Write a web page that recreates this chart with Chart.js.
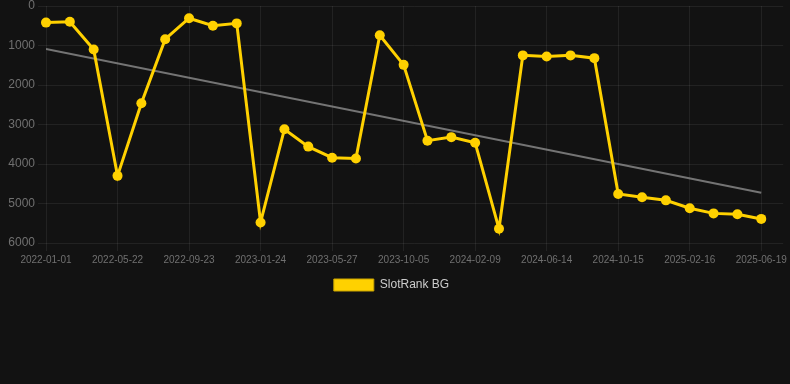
<!DOCTYPE html>
<html>
<head>
<meta charset="utf-8">
<script src="https://cdn.jsdelivr.net/npm/chart.js@4"></script>
<style>
  html, body { margin: 0; padding: 0; background: #121212; }
  .chart-container { position: relative; width: 790px; height: 301px; }
</style>
</head>
<body>
<div class="chart-container">
  <canvas id="chart" aria-label="SlotRank BG chart" role="img"></canvas>
</div>
<script>
const DATES = [
  '2022-01-01', '2022-02-17', '2022-04-05', '2022-05-22', '2022-07-03', '2022-08-13',
  '2022-09-23', '2022-11-03', '2022-12-14', '2023-01-24', '2023-03-06', '2023-04-16',
  '2023-05-27', '2023-07-10', '2023-08-23', '2023-10-05', '2023-11-16', '2023-12-29',
  '2024-02-09', '2024-03-22', '2024-05-03', '2024-06-14', '2024-07-25', '2024-09-04',
  '2024-10-15', '2024-11-25', '2025-01-06', '2025-02-16', '2025-03-29', '2025-05-09',
  '2025-06-19',
];

const RANKS = [
  420, 400, 1100, 4300, 2460, 840, 310, 500, 440, 5480,
  3120, 3560, 3840, 3860, 740, 1490, 3410, 3320, 3460, 5640,
  1250, 1280, 1250, 1320, 4760, 4840, 4920, 5120, 5250, 5270,
  5390,
];

// trend line end points (first and last date)
const TREND = [1090, 4730];

const Y_TICKS = { min: 0, max: 6000, step: 1000 };

const YELLOW = '#FFD100';
const TICK_COLOR = '#707070';
const GRID_COLOR = 'rgba(255,255,255,0.07)';
const FONT_FAMILY = 'Liberation Sans, Arial, sans-serif';

const lastIndex = DATES.length - 1;

const ctx = document.getElementById('chart');
new Chart(ctx, {
  type: 'line',
  data: {
    datasets: [
      {
        label: 'SlotRank BG',
        data: RANKS.map((v, i) => ({ x: i, y: v })),
        borderColor: YELLOW,
        backgroundColor: YELLOW,
        borderWidth: 3,
        pointRadius: 5,
        pointBorderWidth: 0,
        pointHoverRadius: 6,
        tension: 0,
        clip: false,
      },
      {
        label: 'trend',
        data: [{ x: 0, y: TREND[0] }, { x: lastIndex, y: TREND[1] }],
        borderColor: 'rgba(150,150,150,0.75)',
        borderWidth: 2,
        pointRadius: 0,
        fill: false,
      },
    ],
  },
  options: {
    responsive: true,
    maintainAspectRatio: false,
    animation: false,
    layout: { padding: { left: -7, right: 0, top: 0, bottom: 0 } },
    plugins: {
      legend: {
        position: 'bottom',
        labels: {
          color: '#cccccc',
          font: { size: 12, family: FONT_FAMILY },
          boxWidth: 40,
          boxHeight: 12,
          generateLabels: chart =>
            Chart.defaults.plugins.legend.labels.generateLabels(chart)
              .filter(item => item.text !== 'trend')
              .map(item => ({ ...item, lineWidth: 1, strokeStyle: '#c9a400' })),
        },
      },
      tooltip: { enabled: false },
    },
    scales: {
      x: {
        type: 'linear',
        min: 0,
        max: 30.92,
        grid: { color: GRID_COLOR },
        border: { display: false },
        ticks: {
          stepSize: 3,
          includeBounds: false,
          autoSkip: false,
          maxRotation: 0,
          color: TICK_COLOR,
          font: { size: 10, family: FONT_FAMILY },
          callback: v => DATES[v] || '',
        },
      },
      y: {
        reverse: true,
        min: Y_TICKS.min,
        max: Y_TICKS.max,
        grid: { color: GRID_COLOR },
        border: { display: false },
        afterFit: scale => { scale.width = 53; },
        ticks: {
          stepSize: Y_TICKS.step,
          color: TICK_COLOR,
          font: { size: 12, family: FONT_FAMILY, lineHeight: 0.5 },
          callback: v => String(v),
        },
      },
    },
  },
});
</script>
</body>
</html>
